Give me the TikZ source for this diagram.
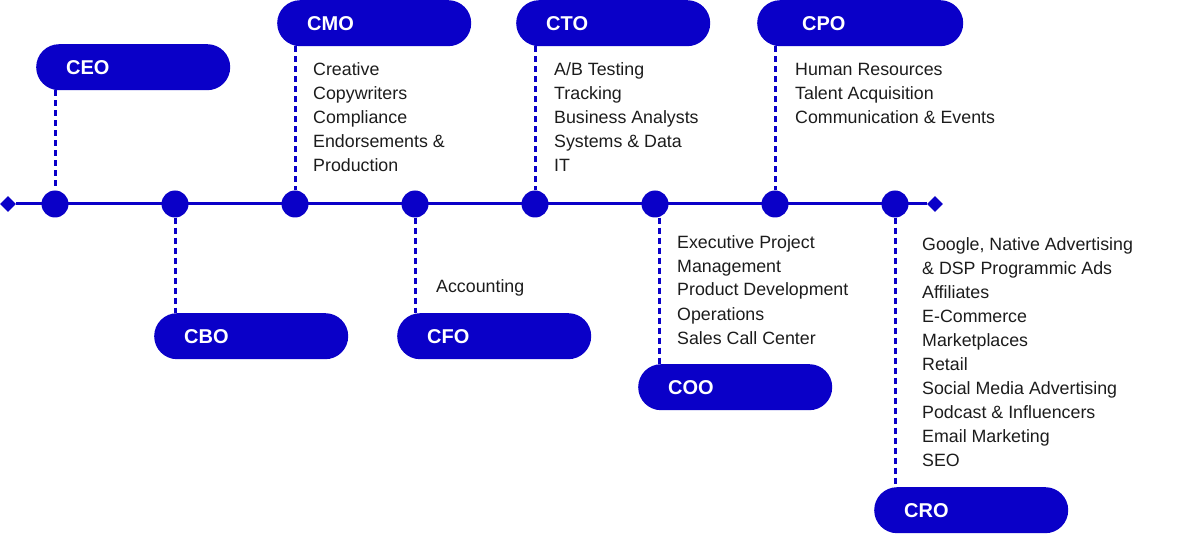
\documentclass[tikz,border=0pt]{standalone}
\usepackage{fontspec}
\setmainfont{Liberation Sans}
\usetikzlibrary{shapes.geometric}
\definecolor{brand}{RGB}{10,0,200}
\definecolor{ink}{RGB}{28,28,28}
\begin{document}
\begin{tikzpicture}[x=1pt, y=-1pt,
    dot/.style={circle, fill=brand, minimum size=27pt, inner sep=0},
    tip/.style={diamond, fill=brand, minimum size=16pt, inner sep=0},
    pill/.style={fill=brand, rounded corners=22.9pt, minimum height=46pt, text width=134pt, inner xsep=30pt, inner ysep=0, align=left, text=white, font=\fontsize{20}{24}\selectfont\bfseries, anchor=north west},
    duties/.style={anchor=base west, align=left, inner sep=0, text=ink, font=\fontsize{17.8}{24}\selectfont},
    link/.style={brand, line width=3pt, dash pattern=on 6pt off 4pt}]
  \useasboundingbox (0,0) rectangle (1198,534);
  % timeline
  \node[tip] (start) at (8,204) {};
  \node[tip] (end) at (935,204) {};
  \draw[brand, line width=3pt] (start) -- (end);
  \foreach \name [count=\i from 0] in {ceo,cbo,cmo,cfo,cto,coo,cpo,cro}
    \node[dot] (d\name) at (55+120*\i,204) {};
  % chiefs
  \node[pill] (ceo) at (36,44) {CEO};
  \node[pill] (cmo) at (277,0) {CMO};
  \node[pill] (cto) at (516,0) {CTO};
  \node[pill, text width=116pt, inner xsep=45pt] (cpo) at (757,0) {CPO};
  \node[pill] (cbo) at (154,313) {CBO};
  \node[pill] (cfo) at (397,313) {CFO};
  \node[pill] (coo) at (638,364) {COO};
  \node[pill] (cro) at (874,487) {CRO};
  % links
  \foreach \name in {ceo,cmo,cto,cpo}
    \draw[link] (\name.south -| d\name) -- (d\name);
  \foreach \name in {cbo,cfo,cro}
    \draw[link] (d\name) -- (d\name |- \name.north);
  \draw[link] ([xshift=4pt]dcoo.south) -- ([xshift=4pt]dcoo.south |- coo.north);
  % departments (anchored at the last baseline)
  \node[duties] (cmolist) at (313,172) {Creative\\Copywriters\\Compliance\\Endorsements \&\\Production};
  \node[duties] (ctolist) at (554,172) {A/B Testing\\Tracking\\Business Analysts\\Systems \& Data\\IT};
  \node[duties] (cpolist) at (795,124) {Human Resources\\Talent Acquisition\\Communication \& Events};
  \node[duties] (cfolist) at (436,293) {Accounting};
  \node[duties] (coolist) at (677,344) {Executive Project\\Management\\Product Development\\Operations\\Sales Call Center};
  \node[duties] (crolist) at (922,466) {Google, Native Advertising\\\& DSP Programmic Ads\\Affiliates\\E-Commerce\\Marketplaces\\Retail\\Social Media Advertising\\Podcast \& Influencers\\Email Marketing\\SEO};
\end{tikzpicture}
\end{document}
